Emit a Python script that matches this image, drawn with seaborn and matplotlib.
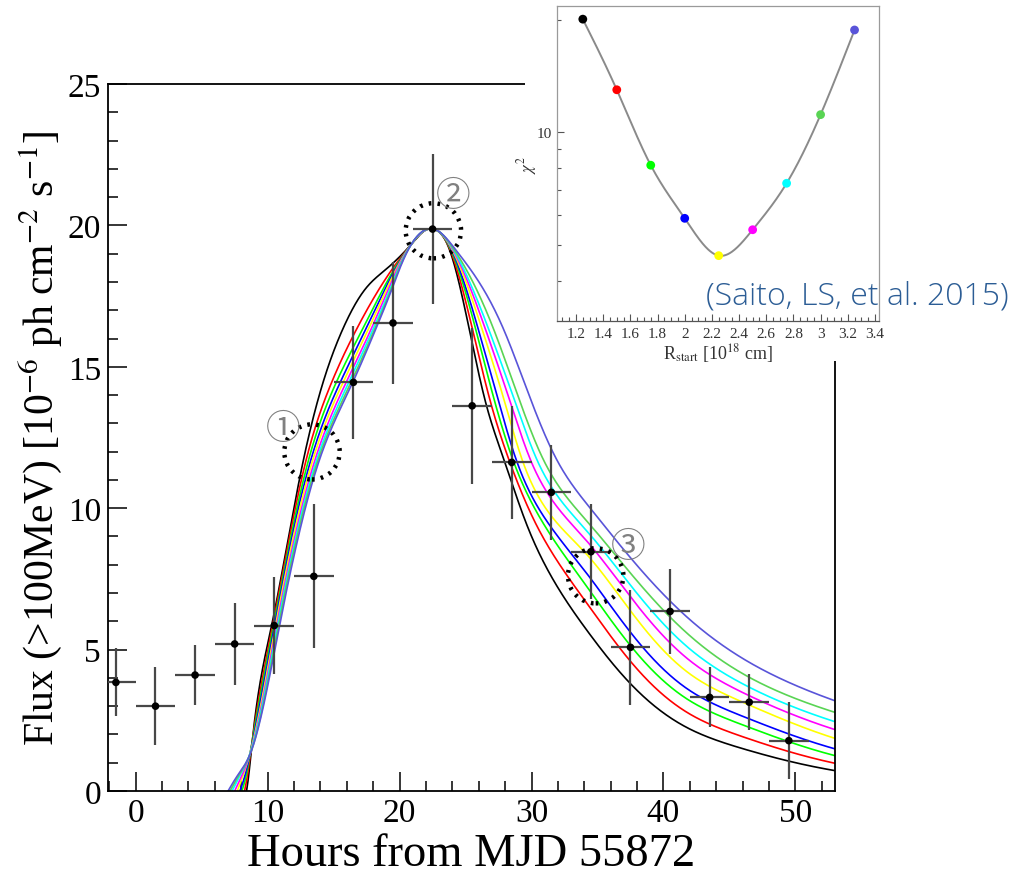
import numpy as np
import pandas as pd
import matplotlib
matplotlib.use("Agg")
import matplotlib.pyplot as plt
from matplotlib.patches import Ellipse, Rectangle
from matplotlib.ticker import (MultipleLocator, FixedLocator, NullFormatter,
                               FixedFormatter, FuncFormatter)
import seaborn as sns

# ---------------- data ----------------
HOURS = [-1.5, 1.5, 4.5, 7.5, 10.5, 13.5, 16.5, 19.5, 22.5, 25.5, 28.5, 31.5,
         34.5, 37.5, 40.5, 43.5, 46.5, 49.5]
FLUX = [3.84, 3.00, 4.10, 5.20, 5.85, 7.59, 14.45, 16.55, 19.87, 13.62, 11.62,
        10.56, 8.46, 5.08, 6.35, 3.31, 3.14, 1.78]
FLUX_ERR = [1.20, 1.37, 1.05, 1.45, 1.72, 2.55, 2.00, 2.15, 2.65, 2.75, 2.00,
            1.68, 1.68, 2.03, 1.49, 1.06, 1.00, 1.35]
HOUR_ERR = [1.5] * len(HOURS)

# model light curves, one per R_start value
RSTART = [1.25, 1.5, 1.75, 2.0, 2.25, 2.5, 2.75, 3.0, 3.25]
CHI2 = [20.1, 13.0, 8.16, 5.88, 4.67, 5.48, 7.30, 11.15, 18.8]
MODEL_COLORS = ["#000000", "#ff0000", "#00ff00", "#0000ff", "#ffff00",
                "#ff00ff", "#00ffff", "#59d454", "#5954d9"]

# rising part: hour at which each curve reaches the given flux
RISE_FLUX = [0.0, 0.5, 1.4, 5.85, 11.39, 14.45, 16.34, 17.75, 18.46, 19.34]
RISE_HOURS = [
    [8.40, 8.25, 8.05, 7.90, 7.70, 7.50, 7.30, 7.15, 7.00],
    [8.55, 8.45, 8.35, 8.25, 8.10, 8.00, 7.85, 7.75, 7.65],
    [8.75, 8.72, 8.70, 8.70, 8.70, 8.72, 8.72, 8.75, 8.75],
    [10.30, 10.38, 10.45, 10.52, 10.60, 10.68, 10.75, 10.82, 10.90],
    [12.57, 12.75, 12.92, 13.08, 13.22, 13.38, 13.50, 13.60, 13.70],
    [14.20, 14.85, 15.20, 15.50, 15.72, 15.95, 16.15, 16.32, 16.45],
    [15.70, 16.75, 17.20, 17.45, 17.65, 17.85, 18.00, 18.12, 18.20],
    [17.40, 18.45, 18.75, 18.90, 19.02, 19.15, 19.28, 19.36, 19.42],
    [19.00, 19.45, 19.60, 19.68, 19.75, 19.82, 19.90, 19.95, 20.00],
    [20.90, 20.90, 20.90, 20.90, 20.90, 20.90, 20.90, 20.90, 20.90],
]
PEAK_HOUR = 22.5
PEAK_FLUX = 19.87

# falling part: hour at which each curve drops to the given flux
FALL_FLUX = [19.17, 16.22, 13.62, 11.62, 9.38]
FALL_HOURS = [
    [23.76, 23.80, 23.85, 23.90, 23.95, 24.00, 24.05, 24.10, 24.20],
    [25.33, 25.58, 25.83, 26.03, 26.33, 26.59, 26.84, 27.22, 27.98],
    [26.59, 26.97, 27.30, 27.60, 28.05, 28.48, 28.86, 29.24, 30.12],
    [27.98, 28.36, 28.66, 28.91, 29.36, 30.00, 30.50, 31.00, 32.02],
    [29.67, 30.40, 31.00, 31.40, np.nan, np.nan, np.nan, np.nan, np.nan],
]
# tail: flux of each curve at the given hour
TAIL_HOURS = [34.5, 42.0, 46.5, 53.0]
TAIL_FLUX = [
    [5.49, 6.44, 7.03, 7.50, 8.20, 8.67, 9.03, 9.38, 9.97],
    [2.19, 2.72, 3.19, 3.55, 4.14, 4.61, 5.02, 5.49, 6.06],
    [1.43, 1.84, 2.25, 2.55, 3.04, 3.37, 3.67, 4.02, 4.55],
    [0.72, 0.98, 1.25, 1.49, 1.86, 2.17, 2.45, 2.78, 3.19],
]

# annotation markers (dotted circles and circled numbers)
RING_HOURS = [13.36, 22.56, 34.86]
RING_FLUX = [11.99, 19.81, 7.61]
RING_LABELS = ["\u2460", "\u2461", "\u2462"]
LABEL_HOURS = [11.16, 24.1, 37.3]
LABEL_FLUX = [12.82, 21.05, 8.63]


# ---------------- helpers: smooth line through the read points ----------------
def nat_spline(x, y, xn):
    x = np.asarray(x, float)
    y = np.asarray(y, float)
    n = len(x)
    h = np.diff(x)
    A = np.zeros((n, n))
    b = np.zeros(n)
    A[0, 0] = 1.0
    A[-1, -1] = 1.0
    for i in range(1, n - 1):
        A[i, i - 1] = h[i - 1]
        A[i, i] = 2 * (h[i - 1] + h[i])
        A[i, i + 1] = h[i]
        b[i] = 3 * ((y[i + 1] - y[i]) / h[i] - (y[i] - y[i - 1]) / h[i - 1])
    c = np.linalg.solve(A, b)
    bc = (y[1:] - y[:-1]) / h - h * (2 * c[:-1] + c[1:]) / 3
    d = (c[1:] - c[:-1]) / (3 * h)
    idx = np.clip(np.searchsorted(x, xn) - 1, 0, n - 2)
    t = xn - x[idx]
    return y[idx] + bc[idx] * t + c[idx] * t**2 + d[idx] * t**3


rows = []
for j, r in enumerate(RSTART):
    rx = [hrs[j] for hrs in RISE_HOURS] + [PEAK_HOUR]
    ry = list(RISE_FLUX) + [PEAK_FLUX]
    fx = [hrs[j] for hrs in FALL_HOURS if not np.isnan(hrs[j])]
    fy = [f for f, hrs in zip(FALL_FLUX, FALL_HOURS) if not np.isnan(hrs[j])]
    fx += list(TAIL_HOURS)
    fy += [tf[j] for tf in TAIL_FLUX]
    x_up = np.linspace(rx[0], PEAK_HOUR, 500)
    y_up = nat_spline(rx + [fx[0]], ry + [fy[0]], x_up)
    kx = [rx[-2], PEAK_HOUR] + fx
    ky = np.log([ry[-2], PEAK_FLUX] + fy)
    x_dn = np.linspace(PEAK_HOUR, TAIL_HOURS[-1], 700)
    y_dn = np.exp(nat_spline(kx, ky, x_dn))
    for a, bb in zip(np.r_[x_up, x_dn[1:]], np.r_[y_up, y_dn[1:]]):
        rows.append({"hour": a, "flux": bb, "R": f"{r:.2f}"})
model_df = pd.DataFrame(rows)

# ---------------- figure ----------------
sns.set_style("white")
plt.rcParams["font.family"] = ["Liberation Serif", "DejaVu Serif"]
plt.rcParams["mathtext.fontset"] = "stix"

W, H = 1034, 878
fig = plt.figure(figsize=(W / 100, H / 100), dpi=100)
fig.patch.set_facecolor("white")

ax = fig.add_axes([108 / W, 1 - 792 / H, (835 - 108) / W, (792 - 85) / H])
ax.set_zorder(0)

sns.lineplot(data=model_df, x="hour", y="flux", hue="R", palette=MODEL_COLORS,
             legend=False, sort=False, estimator=None, linewidth=1.2, ax=ax)

ax.errorbar(HOURS, FLUX, yerr=FLUX_ERR, xerr=HOUR_ERR, fmt="none",
            ecolor="#484848", elinewidth=1.6, capsize=0, zorder=4)
sns.scatterplot(x=HOURS, y=FLUX, color="black", s=30, edgecolor="none",
                ax=ax, zorder=5)

for hx, fy in zip(RING_HOURS, RING_FLUX):
    ax.add_patch(Ellipse((hx, fy), 4.2, 1.95, fill=False, edgecolor="black",
                         linestyle=(0, (0.6, 1.4)), linewidth=3.2, zorder=6))
for hx, fy, lab in zip(LABEL_HOURS, LABEL_FLUX, RING_LABELS):
    ax.text(hx, fy, lab, color="#808080", fontsize=25, ha="center", va="center",
            family=["Noto Sans CJK JP", "DejaVu Sans"], zorder=6)

ax.set_xlim(-2.1, 53.0)
ax.set_ylim(0, 25)
ax.xaxis.set_major_locator(MultipleLocator(10))
ax.xaxis.set_minor_locator(MultipleLocator(2))
ax.yaxis.set_major_locator(MultipleLocator(5))
ax.yaxis.set_minor_locator(MultipleLocator(1))
ax.tick_params(which="major", direction="in", length=14, width=1.1,
               labelsize=24, pad=5, bottom=True, left=True, top=False,
               right=False, color="black", labelcolor="black")
ax.tick_params(which="minor", direction="in", length=7, width=1.1,
               bottom=True, left=True, top=False, right=False, color="black")
for s in ax.spines.values():
    s.set_linewidth(1.3)
    s.set_color("black")
ax.set_xlabel("Hours from MJD 55872", fontsize=33.5, labelpad=3, color="black")
ax.set_ylabel("Flux (>100MeV) [10$^{-6}$ ph cm$^{-2}$ s$^{-1}$]", fontsize=30,
              labelpad=3, color="black")

# white cover behind the inset
fig.add_artist(Rectangle((525 / W, 1 - 362 / H), 1, 1, transform=fig.transFigure,
                         facecolor="white", edgecolor="none", zorder=1))

# ---------------- inset ----------------
ins = fig.add_axes([557 / W, 1 - 322 / H, (879 - 557) / W, (322 - 7) / H])
ins.set_zorder(2)
ins.set_facecolor("white")
rr = np.linspace(RSTART[0], RSTART[-1], 400)
chi_s = 10 ** nat_spline(RSTART, np.log10(CHI2), rr)
sns.lineplot(x=rr, y=chi_s, color="#8a8a8a", linewidth=1.4, ax=ins,
             sort=False, estimator=None)
sns.scatterplot(x=RSTART, y=CHI2, hue=[f"{r:.2f}" for r in RSTART],
                palette=MODEL_COLORS, s=40, edgecolor="none", legend=False,
                ax=ins, zorder=5)
ins.set_yscale("log")
ins.set_xlim(1.06, 3.43)
ins.set_ylim(3.12, 21.8)
ins.xaxis.set_major_locator(MultipleLocator(0.2))
ins.xaxis.set_minor_locator(MultipleLocator(0.05))
ins.xaxis.set_major_formatter(FuncFormatter(lambda v, p: f"{v:g}"))
ins.yaxis.set_major_locator(FixedLocator([10]))
ins.yaxis.set_major_formatter(FixedFormatter(["10"]))
ins.yaxis.set_minor_locator(FixedLocator([4, 5, 6, 7, 8, 9, 20]))
ins.yaxis.set_minor_formatter(NullFormatter())
ins.tick_params(which="major", direction="in", length=5, width=0.8,
                labelsize=11, pad=4, bottom=True, left=True, colors="#555555",
                labelcolor="#333333")
ins.tick_params(which="minor", direction="in", length=3, width=0.8,
                bottom=True, left=True, colors="#555555")
for s in ins.spines.values():
    s.set_linewidth(0.9)
    s.set_color("#9a9a9a")
ins.spines["bottom"].set_color("#555555")
ins.set_xlabel(r"R$_{\rm start}$ [10$^{18}$ cm]", fontsize=13, labelpad=1,
               color="#333333")
ins.set_ylabel(r"$\chi^{2}$", fontsize=12, labelpad=-2, color="#333333")

fig.text(706 / W, 1 - 296 / H, "(Saito, LS, et al. 2015)", color="#2c5d95",
         fontsize=23, family=["Open Sans", "DejaVu Sans"], fontweight="light",
         ha="left", va="center", zorder=3)

fig.savefig("out.png", dpi=100, facecolor="white")
